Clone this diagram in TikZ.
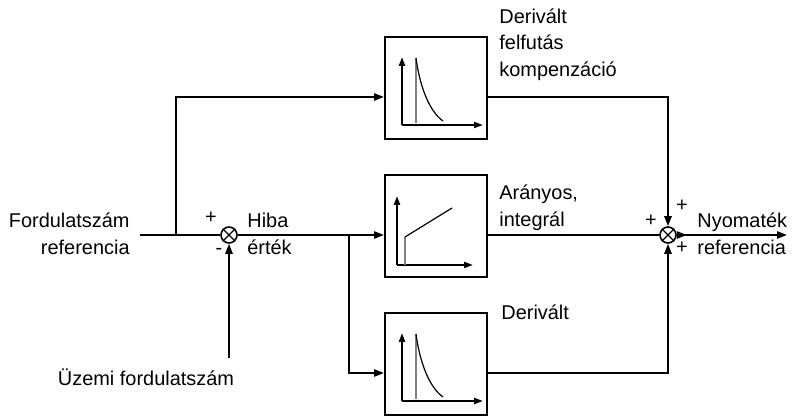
\documentclass[tikz,border=0pt]{standalone}
\usepackage{fontspec}
\setmainfont{Liberation Sans}
\usetikzlibrary{arrows.meta, positioning, calc}
\newcommand{\decaygraph}[1]{%  \decaygraph{box}
  \begin{scope}[shift={(#1)}]
    \draw[axis] (-34,37) -- (-34,-31);
    \draw[axis] (-34,37) -- (47,37);
    \draw[trace] (-20,35) -- (-20,-30);
    \draw[curve] (-20,-30) .. controls (-16,0) and (-6,24) .. (7,33);
  \end{scope}}

\begin{document}
\begin{tikzpicture}[x=0.5bp, y=-0.5bp,
    wire/.style={line width=1bp},
    arr/.style={wire, -{Triangle[length=5bp,width=3.6bp]}},
    blk/.style={draw, line width=1bp, minimum width=51bp, minimum height=51bp, inner sep=0pt},
    sum/.style={draw, circle, line width=0.8bp, minimum size=8bp, inner sep=0pt},
    axis/.style={line width=1bp, -{Triangle[length=4.5bp,width=3bp]}},
    trace/.style={gray, line width=0.6bp},
    curve/.style={line width=0.6bp},
    lbl/.style={font=\fontsize{10}{13.5}\selectfont, inner sep=0pt},
    sgn/.style={font=\fontsize{10}{12}\selectfont, inner sep=0pt}]
  \useasboundingbox (0,0) rectangle (794,417);
  % blocks
  \node[blk] (d1) at (436,88) {};
  \node[blk] (pi) at (436,226) {};
  \node[blk] (d2) at (436,364) {};
  % summing points
  \node[sum] (s1) at (229,235) {};
  \node[sum] (s2) at (668,235) {};
  \foreach \s in {s1,s2}
    \draw[line width=0.6bp] (\s.north west) -- (\s.south east)
                            (\s.south west) -- (\s.north east);
  % free ends and branch points
  \coordinate (in) at (140,235);
  \coordinate (br1) at (176,235);
  \coordinate (br2) at (349,235);
  \coordinate (fb) at (229,358);
  \coordinate (out) at (787,235);
  % connectors
  \draw[wire] (in) -- (s1);
  \draw[arr] (br1) |- ($(d1.west)+(0,9)$);
  \draw[arr] (s1) -- ($(pi.west)+(0,9)$);
  \draw[arr] (br2) |- ($(d2.west)+(0,9)$);
  \draw[arr] (fb) -- (s1);
  \draw[arr] ($(d1.east)+(0,9)$) -| (s2);
  \draw[wire] ($(pi.east)+(0,9)$) -- (s2);
  \draw[arr] ($(d2.east)+(0,9)$) -| (s2);
  \draw[wire, {Triangle[reversed,length=5bp,width=3.6bp]}-{Triangle[length=5bp,width=3.6bp]}] (s2) -- (out);
  % block contents
  \decaygraph{d1}
  \decaygraph{d2}
  \begin{scope}[shift={(pi)}]
    \draw[axis] (-39,39) -- (-39,-30);
    \draw[axis] (-39,39) -- (37,39);
    \draw[trace] (-31,39) -- (-31,11);
    \draw[curve] (-31,11) -- (16,-18);
  \end{scope}
  % labels
  \node[lbl, anchor=east, align=right] (ref) at (130,234) {Fordulatszám\\referencia};
  \node[lbl, anchor=west, align=left] (err) at (247,234) {Hiba\\érték};
  \node[lbl] (act) at (146,377) {Üzemi fordulatszám};
  \node[lbl, anchor=north west, align=left] (d1lbl) at (499,8) {Derivált\\felfutás\\kompenzáció};
  \node[lbl, anchor=south west, align=left] (pilbl) at (499,231) {Arányos,\\integrál};
  \node[lbl, anchor=west] (d2lbl) at (501,312) {Derivált};
  \node[lbl, anchor=west, align=left] (outlbl) at (697,234) {Nyomaték\\referencia};
  % signs
  \node[sgn] (p1) at (211,218) {+};
  \node[sgn] (m1) at (219,251) {-};
  \node[sgn] (p2) at (651,221) {+};
  \node[sgn] (p3) at (682,206) {+};
  \node[sgn] (p4) at (682,248) {+};
\end{tikzpicture}
\end{document}
